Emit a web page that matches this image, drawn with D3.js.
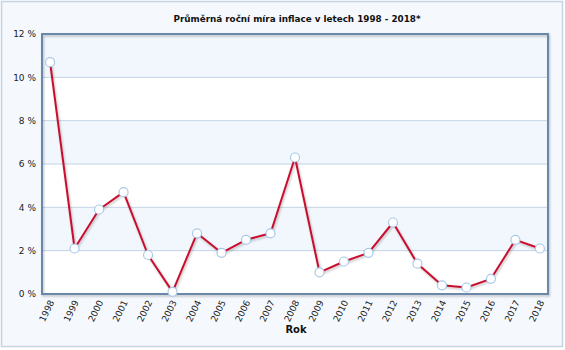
<!DOCTYPE html>
<html><head><meta charset="utf-8">
<script src="https://cdn.jsdelivr.net/npm/d3@7/dist/d3.min.js"></script>
<style>body{margin:0;background:#fff}svg{display:block}</style>
</head><body>
<script>
const years = ["1998","1999","2000","2001","2002","2003","2004","2005","2006","2007","2008","2009","2010","2011","2012","2013","2014","2015","2016","2017","2018"];
const inflation = [10.7,2.1,3.9,4.7,1.8,0.1,2.8,1.9,2.5,2.8,6.3,1.0,1.5,1.9,3.3,1.4,0.4,0.3,0.7,2.5,2.1];
const yTicks = [0,2,4,6,8,10,12];
const title = "Průměrná roční míra inflace v letech 1998 - 2018*";
const xTitle = "Rok";

const W=565,H=350;
const svg=d3.select("body").append("svg").attr("width",W).attr("height",H);
const font="Verdana, 'DejaVu Sans', sans-serif";
const defs=svg.append("defs");
const f=defs.append("filter").attr("id","sh").attr("x","-10%").attr("y","-10%").attr("width","130%").attr("height","130%");
f.append("feDropShadow").attr("dx",1).attr("dy",1.5).attr("stdDeviation",1).attr("flood-color","#000").attr("flood-opacity",0.25);

svg.append("rect").attr("x",1.5).attr("y",1.5).attr("width",W-4).attr("height",H-5)
  .attr("fill","#f5f9fe").attr("stroke","#c5d3e2").attr("stroke-width",1.5);

const L=42,R=548,T=34,B=294;
const x=d3.scalePoint().domain(years).range([L,R]).padding(0.33);
const y=d3.scaleLinear().domain([0,12]).range([B,T]);

const g=svg.append("g");
for(let i=0;i<yTicks.length-1;i++){
  g.append("rect").attr("x",L).attr("width",R-L).attr("y",y(yTicks[i+1])).attr("height",y(yTicks[i])-y(yTicks[i+1]))
   .attr("fill", i%2===0?"#ffffff":"#f1f7fd");
}
g.append("g").selectAll("line").data(yTicks.slice(1,-1)).join("line")
 .attr("x1",L).attr("x2",R).attr("y1",d=>y(d)).attr("y2",d=>y(d)).attr("stroke","#c3d4e6").attr("stroke-width",1);

svg.append("rect").attr("x",L).attr("y",T).attr("width",R-L).attr("height",B-T)
 .attr("fill","none").attr("stroke","#6a88aa").attr("stroke-width",2).attr("filter","url(#sh)");

const ya=svg.append("g").attr("transform",`translate(${L},0)`)
 .call(d3.axisLeft(y).tickValues(yTicks).tickFormat(d=>d+" %").tickSize(0).tickPadding(6));
ya.select(".domain").remove();
ya.selectAll("text").attr("font-family",font).attr("font-size",9).attr("fill","#222");

const xa=svg.append("g").attr("transform",`translate(0,${B})`)
 .call(d3.axisBottom(x).tickSize(0).tickPadding(0));
xa.select(".domain").remove();
xa.selectAll("text").attr("font-family",font).attr("font-size",9).attr("fill","#222")
 .attr("text-anchor","end").attr("dy",0).attr("dx",0)
 .attr("transform","translate(4,8) rotate(-64)");

const data=years.map((yr,i)=>({yr,v:inflation[i]}));
svg.append("path").datum(data).attr("fill","none").attr("stroke","#c8102e").attr("stroke-width",2)
 .attr("stroke-linejoin","round").attr("filter","url(#sh)")
 .attr("d",d3.line().x(d=>x(d.yr)).y(d=>y(d.v)));
svg.append("g").selectAll("circle").data(data).join("circle")
 .attr("cx",d=>x(d.yr)).attr("cy",d=>y(d.v)).attr("r",4.5)
 .attr("fill","#fff").attr("stroke","#a9c9ea").attr("stroke-width",1.2);

svg.append("text").attr("x",297).attr("y",22).attr("text-anchor","middle")
 .attr("font-family",font).attr("font-size",8.8).attr("font-weight","bold").attr("fill","#111").text(title);
svg.append("text").attr("x",296).attr("y",333).attr("text-anchor","middle")
 .attr("font-family",font).attr("font-size",10).attr("font-weight","bold").attr("fill","#111").text(xTitle);
</script>
</body></html>
